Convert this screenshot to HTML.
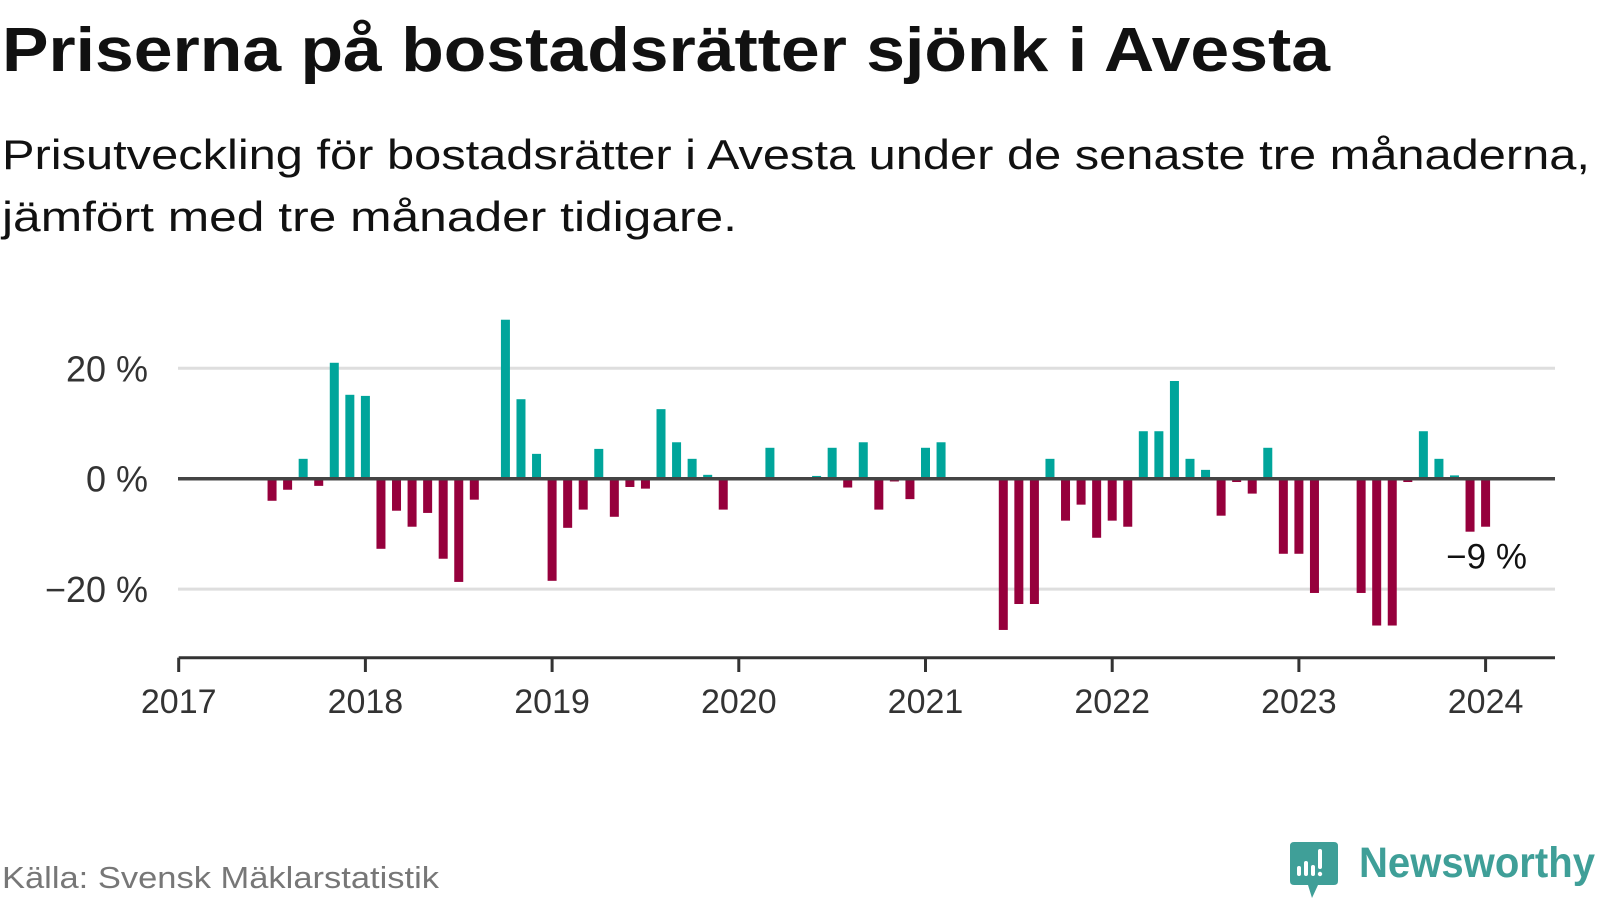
<!DOCTYPE html>
<html><head><meta charset="utf-8"><style>
html,body{margin:0;padding:0;background:#fff;}
svg{display:block;font-family:"Liberation Sans",sans-serif;}
</style></head><body>
<svg id="chart" width="1600" height="900" viewBox="0 0 1600 900" xmlns="http://www.w3.org/2000/svg">
<text x="2" y="71" font-size="62" font-weight="bold" fill="#111" textLength="1328" lengthAdjust="spacingAndGlyphs">Priserna på bostadsrätter sjönk i Avesta</text>
<text x="2" y="169" font-size="42" fill="#111" textLength="1588" lengthAdjust="spacingAndGlyphs">Prisutveckling för bostadsrätter i Avesta under de senaste tre månaderna,</text>
<text x="2" y="231" font-size="42" fill="#111" textLength="735" lengthAdjust="spacingAndGlyphs">jämfört med tre månader tidigare.</text>
<g id="grid"></g>
<g id="yaxis"></g>
<g id="bars"></g>
<line id="zero" x1="178" x2="1555" stroke="#444" stroke-width="3.5"/>
<g id="xaxis"></g>
<text id="lastlabel" font-size="35" fill="#111" text-anchor="middle">−9 %</text>
<text x="2" y="888" font-size="31" fill="#777" textLength="437" lengthAdjust="spacingAndGlyphs">Källa: Svensk Mäklarstatistik</text>
<g>
<path d="M1294 842 H1334 Q1338 842 1338 846 V881 Q1338 885 1334 885 H1318 L1312 898 L1308 885 H1294 Q1290 885 1290 881 V846 Q1290 842 1294 842 Z" fill="#3f9f98"/>
<rect x="1297" y="866" width="4" height="10" rx="2" fill="#fff"/>
<rect x="1304" y="861" width="4" height="15" rx="2" fill="#fff"/>
<rect x="1311" y="865" width="4" height="11" rx="2" fill="#fff"/>
<rect x="1318" y="849" width="4" height="20" rx="2" fill="#fff"/>
<circle cx="1320" cy="874" r="2.2" fill="#fff"/>
<text x="1359" y="877" font-size="43" font-weight="bold" fill="#3f9f98" textLength="236" lengthAdjust="spacingAndGlyphs">Newsworthy</text>
</g>
</svg>
<script>
// monthly index from Jan 2017 (0) ; values in percent, null = no bar
const startIndex = 6;
const values = [-4.0,-2.0,3.6,-1.3,21.0,15.2,15.0,-12.7,-5.8,-8.7,-6.2,-14.5,-18.7,-3.8,null,28.8,14.4,4.5,-18.5,-8.9,-5.6,5.4,-6.9,-1.5,-1.8,12.6,6.6,3.6,0.7,-5.6,
null,null,5.6,null,null,0.5,5.6,-1.6,6.6,-5.6,-0.5,-3.7,5.6,6.6,null,null,null,-27.4,-22.7,-22.7,3.6,-7.6,-4.7,-10.7,-7.6,-8.7,8.6,8.6,17.7,3.6,1.6,-6.7,-0.6,-2.7,5.6,-13.6,-13.6,-20.7,null,null,-20.7,-26.6,-26.6,-0.6,8.6,3.6,0.6,-9.6,-8.7];
const yTicks = [20, 0, -20];
const yTickLabels = ["20 %", "0 %", "−20 %"];
const xYears = [2017,2018,2019,2020,2021,2022,2023,2024];

const NS = "http://www.w3.org/2000/svg";
const x0 = 178.7, monthW = 186.7/12;
const y0 = 478.7, pxPer = (478.7-368.3)/20;
const xScale = m => x0 + m*monthW;
const yScale = v => y0 - v*pxPer;
function mk(tag, attrs, parent){const e=document.createElementNS(NS,tag);for(const k in attrs)e.setAttribute(k,attrs[k]);parent.appendChild(e);return e;}

const grid=document.getElementById('grid'), yaxis=document.getElementById('yaxis');
yTicks.forEach((t,i)=>{
  if(t!==0){const l=mk('line',{x1:178,x2:1555,y1:yScale(t),y2:yScale(t),stroke:'#dedede','stroke-width':3},grid);
  
  }
  const tx=mk('text',{x:148,y:yScale(t)+13,'font-size':36,fill:'#333','text-anchor':'end'},yaxis);
  tx.textContent=yTickLabels[i];
  
  
});
const zero=document.getElementById('zero');zero.setAttribute('y1',yScale(0));zero.setAttribute('y2',yScale(0));

const bars=document.getElementById('bars');
values.forEach((v,i)=>{
  if(v===null) return;
  const cx=xScale(startIndex+i);
  const top=Math.min(yScale(v),y0), h=Math.abs(yScale(v)-y0);
  const r=mk('rect',{x:cx-4.5,y:top,width:9,height:h,fill:v>=0?'#00a59b':'#96003c'},bars);
  
  
});

const xaxis=document.getElementById('xaxis');
const axisY=657.7;
const al=mk('line',{x1:x0,x2:1555,y1:axisY,y2:axisY,stroke:'#333','stroke-width':3},xaxis);


xYears.forEach((yr,i)=>{
  const x=xScale(i*12);
  const tk=mk('line',{x1:x,x2:x,y1:axisY,y2:672,stroke:'#333','stroke-width':3},xaxis);
  
  
  const tx=mk('text',{x:x,y:713,'font-size':34,fill:'#333','text-anchor':'middle'},xaxis);
  tx.textContent=yr;
  
  
});
const last=values[values.length-1];
const ll=document.getElementById('lastlabel');
ll.setAttribute('x',xScale(startIndex+values.length-1)+1);
ll.setAttribute('y',yScale(last)+42);
ll.textContent='−'+Math.abs(Math.round(last))+' %';
</script>
</body></html>
